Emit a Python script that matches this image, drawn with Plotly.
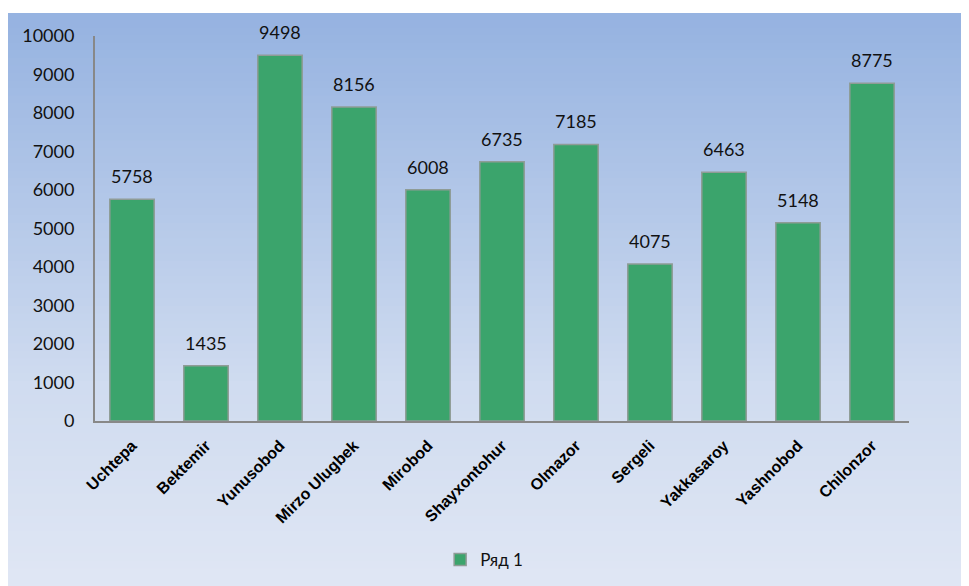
import plotly.graph_objects as go

districts = ["Uchtepa", "Bektemir", "Yunusobod", "Mirzo Ulugbek", "Mirobod", "Shayxontohur",
             "Olmazor", "Sergeli", "Yakkasaroy", "Yashnobod", "Chilonzor"]
values = [5758, 1435, 9498, 8156, 6008, 6735, 7185, 4075, 6463, 5148, 8775]
series_name = "Ряд 1"

fig = go.Figure()

fig.add_trace(go.Bar(
    x=districts, y=values, name=series_name,
    marker=dict(color="#3ba46c", line=dict(color="#8f9c96", width=1.5)),
    showlegend=True,
))

# value labels above bars
for d, v in zip(districts, values):
    fig.add_annotation(x=d, y=v, text=str(v), showarrow=False, yanchor="bottom", yshift=10,
                       font=dict(family="Lato, Open Sans, sans-serif", size=18, color="#111"))

# gradient background bands
shapes = []
n = 80
x0, x1 = -0.11, 1.2
ytop, ybot = 1.06, -0.5
top = (150, 179, 225)
mid = (208, 220, 240)
bot = (226, 232, 245)
for i in range(n):
    t = i / (n - 1)
    if t < 0.62:
        s = t / 0.62
        c = tuple(int(top[k] + (mid[k] - top[k]) * s) for k in range(3))
    else:
        s = (t - 0.62) / 0.38
        c = tuple(int(mid[k] + (bot[k] - mid[k]) * s) for k in range(3))
    h = (ytop - ybot) / n
    y1 = ytop - h * i
    y0 = ytop - h * (i + 1) - (h * 0.6 if i < n - 1 else 0)
    shapes.append(dict(type="rect", xref="paper", yref="paper", x0=x0, x1=x1, y0=y0, y1=y1,
                       fillcolor="rgb(%d,%d,%d)" % c, line=dict(width=0), layer="below"))

fig.update_layout(
    width=969, height=586,
    margin=dict(l=87, r=68, t=28, b=173),
    paper_bgcolor="white",
    plot_bgcolor="rgba(0,0,0,0)",
    shapes=shapes,
    bargap=0.4,
    font=dict(family="Lato, Open Sans, sans-serif", size=17, color="#111"),
    xaxis=dict(tickangle=-45, showline=True, linecolor="#888", linewidth=2, ticks="",
               tickfont=dict(family="Liberation Sans, Arial, sans-serif", size=16, color="#000",
                             weight="bold"),
               showgrid=False, ticklabelstandoff=7),
    yaxis=dict(range=[0, 10000], dtick=1000, tickformat="d", showline=True, linecolor="#888",
               linewidth=2, showgrid=False, ticks="", zeroline=False, ticklabelstandoff=15,
               tickfont=dict(family="Lato, Open Sans, sans-serif", size=18, color="#111")),
    legend=dict(orientation="h", x=0.424, y=-0.361, xanchor="left", yanchor="middle",
                bgcolor="rgba(0,0,0,0)", font=dict(size=17), itemwidth=30),
)

fig.write_html("out.html")
